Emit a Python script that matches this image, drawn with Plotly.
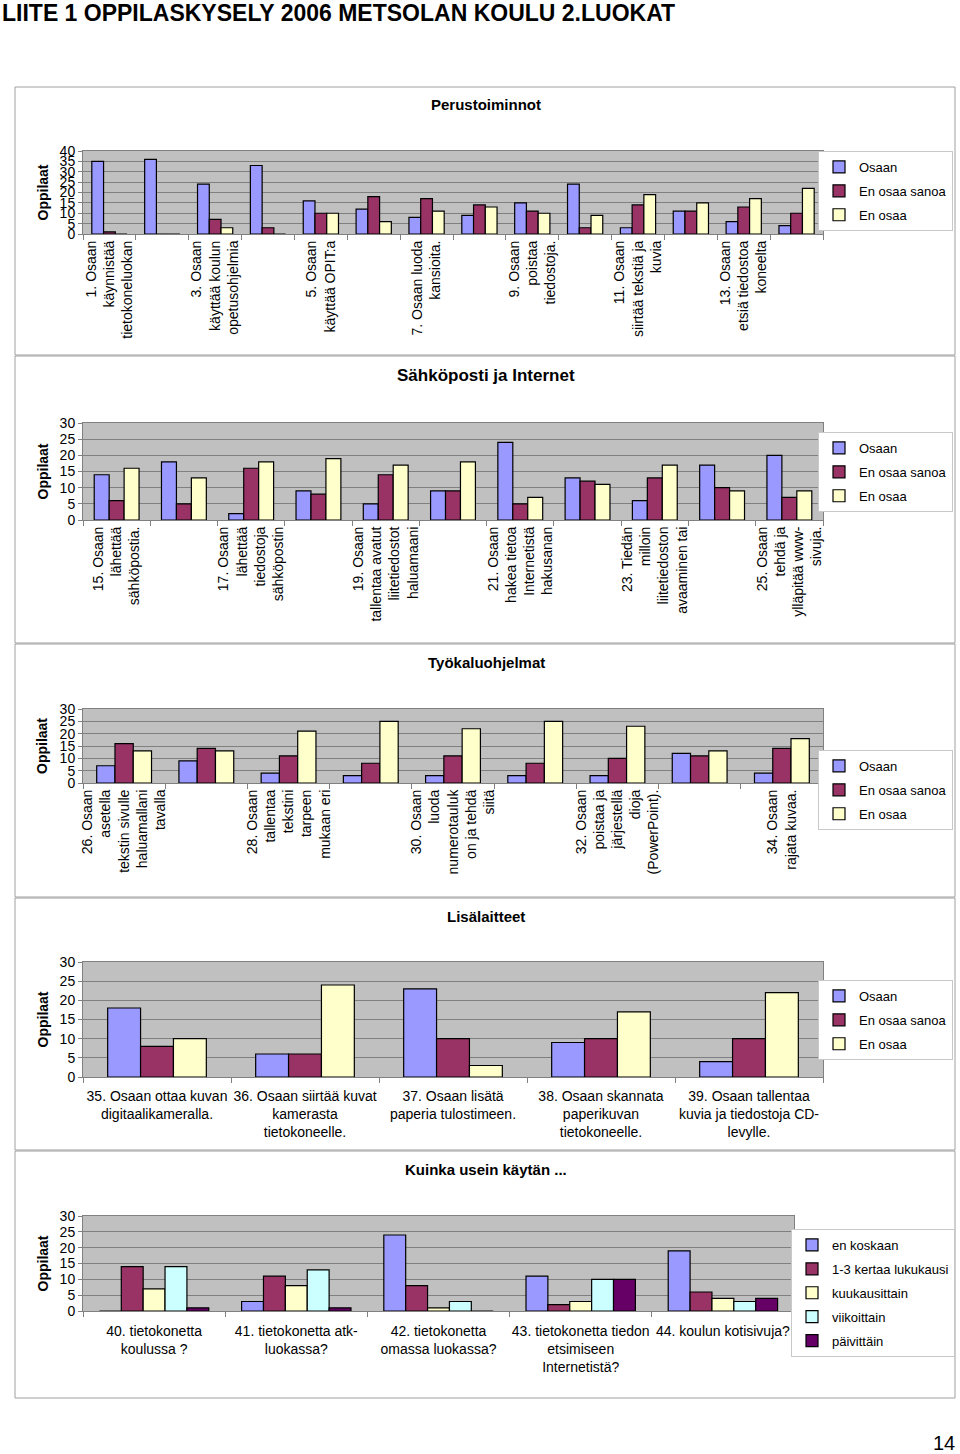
import plotly.graph_objects as go

W, H = 960, 1454
FONT = "Liberation Sans, Arial, sans-serif"

# ---------------- data ----------------
PAGE_TITLE = "LIITE 1 OPPILASKYSELY 2006 METSOLAN KOULU 2.LUOKAT"
PAGE_NUMBER = "14"
Y_TITLE = "Oppilaat"

SERIES3 = ["Osaan", "En osaa sanoa", "En osaa"]
SERIES5 = ["en koskaan", "1-3 kertaa lukukausi", "kuukausittain", "viikoittain", "päivittäin"]

# Chart 1: Perustoiminnot (questions 1-14)
c1_title = "Perustoiminnot"
c1_ids = [str(i) for i in range(1, 15)]
c1_labels = ["1. Osaan<br>käynnistää<br>tietokoneluokan", "",
             "3. Osaan<br>käyttää koulun<br>opetusohjelmia", "",
             "5. Osaan<br>käyttää OPIT:a", "",
             "7. Osaan luoda<br>kansioita.", "",
             "9. Osaan<br>poistaa<br>tiedostoja.", "",
             "11. Osaan<br>siirtää tekstiä ja<br>kuvia", "",
             "13. Osaan<br>etsiä tiedostoa<br>koneelta", ""]
c1_osaan = [35, 36, 24, 33, 16, 12, 8, 9, 15, 24, 3, 11, 6, 4]
c1_en_osaa_sanoa = [1, 0, 7, 3, 10, 18, 17, 14, 11, 3, 14, 11, 13, 10]
c1_en_osaa = [0, 0, 3, 0, 10, 6, 11, 13, 10, 9, 19, 15, 17, 22]
c1_yticks = [0, 5, 10, 15, 20, 25, 30, 35, 40]

# Chart 2: Sähköposti ja Internet (questions 15-25)
c2_title = "Sähköposti ja Internet"
c2_ids = [str(i) for i in range(15, 26)]
c2_labels = ["15. Osaan<br>lähettää<br>sähköpostia.", "",
             "17. Osaan<br>lähettää<br>tiedostoja<br>sähköpostin", "",
             "19. Osaan<br>tallentaa avatut<br>liitetiedostot<br>haluamaani", "",
             "21. Osaan<br>hakea tietoa<br>Internetistä<br>hakusanan", "",
             "23. Tiedän<br>milloin<br>liitetiedoston<br>avaaminen tai", "",
             "25. Osaan<br>tehdä ja<br>ylläpitää www-<br>sivuja."]
c2_osaan = [14, 18, 2, 9, 5, 9, 24, 13, 6, 17, 20]
c2_en_osaa_sanoa = [6, 5, 16, 8, 14, 9, 5, 12, 13, 10, 7]
c2_en_osaa = [16, 13, 18, 19, 17, 18, 7, 11, 17, 9, 9]
c2_yticks = [0, 5, 10, 15, 20, 25, 30]

# Chart 3: Työkaluohjelmat (questions 26-34)
c3_title = "Työkaluohjelmat"
c3_ids = [str(i) for i in range(26, 35)]
c3_labels = ["26. Osaan<br>asetella<br>tekstin sivulle<br>haluamallani<br>tavalla", "",
             "28. Osaan<br>tallentaa<br>tekstini<br>tarpeen<br>mukaan eri", "",
             "30. Osaan<br>luoda<br>numerotauluk<br>on ja tehdä<br>siitä", "",
             "32. Osaan<br>poistaa ja<br>järjestellä<br>dioja<br>(PowerPoint).", "",
             "34. Osaan<br>rajata kuvaa."]
c3_osaan = [7, 9, 4, 3, 3, 3, 3, 12, 4]
c3_en_osaa_sanoa = [16, 14, 11, 8, 11, 8, 10, 11, 14]
c3_en_osaa = [13, 13, 21, 25, 22, 25, 23, 13, 18]
c3_yticks = [0, 5, 10, 15, 20, 25, 30]

# Chart 4: Lisälaitteet (questions 35-39)
c4_title = "Lisälaitteet"
c4_ids = [str(i) for i in range(35, 40)]
c4_labels = ["35. Osaan ottaa kuvan<br>digitaalikameralla.",
             "36. Osaan siirtää kuvat<br>kamerasta<br>tietokoneelle.",
             "37. Osaan lisätä<br>paperia tulostimeen.",
             "38. Osaan skannata<br>paperikuvan<br>tietokoneelle.",
             "39. Osaan tallentaa<br>kuvia ja tiedostoja CD-<br>levylle."]
c4_osaan = [18, 6, 23, 9, 4]
c4_en_osaa_sanoa = [8, 6, 10, 10, 10]
c4_en_osaa = [10, 24, 3, 17, 22]
c4_yticks = [0, 5, 10, 15, 20, 25, 30]

# Chart 5: Kuinka usein käytän ... (questions 40-44)
c5_title = "Kuinka usein käytän ..."
c5_ids = [str(i) for i in range(40, 45)]
c5_labels = ["40. tietokonetta<br>koulussa ?",
             "41. tietokonetta atk-<br>luokassa?",
             "42. tietokonetta<br>omassa luokassa?",
             "43. tietokonetta tiedon<br>etsimiseen<br>Internetistä?",
             "44. koulun kotisivuja?"]
c5_en_koskaan = [0, 3, 24, 11, 19]
c5_kertaa_lukukausi = [14, 11, 8, 2, 6]
c5_kuukausittain = [7, 8, 1, 3, 4]
c5_viikoittain = [14, 13, 3, 10, 3]
c5_paivittain = [1, 1, 0, 10, 4]
c5_yticks = [0, 5, 10, 15, 20, 25, 30]

# ---------------- styles ----------------
COLORS3 = ["#9999FF", "#993366", "#FFFFCC"]
COLORS5 = ["#9999FF", "#993366", "#FFFFCC", "#CCFFFF", "#660066"]

charts = [
    dict(title=c1_title, tsize=15, ids=c1_ids, labels=c1_labels, names=SERIES3, colors=COLORS3,
         values=[c1_osaan, c1_en_osaa_sanoa, c1_en_osaa], yticks=c1_yticks, angle=-90, standoff=0,
         plot=(83, 151, 823, 234), legend=(953, 151), title_y=104, box=(15, 87, 955, 355)),
    dict(title=c2_title, tsize=17, ids=c2_ids, labels=c2_labels, names=SERIES3, colors=COLORS3,
         values=[c2_osaan, c2_en_osaa_sanoa, c2_en_osaa], yticks=c2_yticks, angle=-90, standoff=0,
         plot=(83, 423, 823, 520), legend=(953, 432), title_y=376, box=(15, 356, 955, 643)),
    dict(title=c3_title, tsize=15, ids=c3_ids, labels=c3_labels, names=SERIES3, colors=COLORS3,
         values=[c3_osaan, c3_en_osaa_sanoa, c3_en_osaa], yticks=c3_yticks, angle=-90, standoff=0,
         plot=(83, 709, 823, 783), legend=(953, 750), title_y=662, box=(15, 644, 955, 897)),
    dict(title=c4_title, tsize=15, ids=c4_ids, labels=c4_labels, names=SERIES3, colors=COLORS3,
         values=[c4_osaan, c4_en_osaa_sanoa, c4_en_osaa], yticks=c4_yticks, angle=0, standoff=6,
         plot=(83, 962, 823, 1077), legend=(953, 980), title_y=916, box=(15, 898, 955, 1150)),
    dict(title=c5_title, tsize=15, ids=c5_ids, labels=c5_labels, names=SERIES5, colors=COLORS5,
         values=[c5_en_koskaan, c5_kertaa_lukukausi, c5_kuukausittain, c5_viikoittain, c5_paivittain],
         yticks=c5_yticks, angle=0, standoff=7,
         plot=(83, 1216, 794, 1311), legend=(955, 1229), title_y=1169, box=(15, 1151, 955, 1398)),
]


def px(x):
    return x / W


def py(y):
    return 1 - y / H


fig = go.Figure()
layout = dict(
    width=W, height=H, margin=dict(l=0, r=0, t=0, b=0, autoexpand=False),
    paper_bgcolor="white", plot_bgcolor="#C0C0C0",
    barmode="group", bargap=1.5 / 4.5, bargroupgap=0,
    font=dict(family=FONT, size=14, color="black"),
    showlegend=True,
)
shapes = []
annotations = []

for k, ch in enumerate(charts, start=1):
    sfx = "" if k == 1 else str(k)
    xref, yref = "x" + sfx, "y" + sfx
    lname = "legend" + sfx
    n = len(ch["names"])
    w = 1 / (n + 1.5)
    for i, (name, col, vals) in enumerate(zip(ch["names"], ch["colors"], ch["values"])):
        tr = dict(x=ch["ids"], y=vals, name=name, xaxis=xref, yaxis=yref, legend=lname,
                  legendgroup=f"{k}-{i}",
                  marker=dict(color=col, line=dict(color="black", width=1.2)),
                  hoverinfo="skip")
        if n == 5:
            tr["width"] = w
            tr["offset"] = -n * w / 2 + i * w
        fig.add_trace(go.Bar(**tr))

    x0, y0, x1, y1 = ch["plot"]
    layout["xaxis" + sfx] = dict(
        domain=[px(x0), px(x1)], anchor=yref, type="category", automargin=False,
        categoryorder="array", categoryarray=ch["ids"],
        tickmode="array", tickvals=ch["ids"], ticktext=ch["labels"],
        tickangle=ch["angle"], tickson="boundaries", ticks="outside", ticklen=5,
        ticklabelstandoff=ch["standoff"],
        tickcolor="#808080", showline=True, linecolor="#808080", linewidth=1, mirror=True,
        showgrid=False, zeroline=False, tickfont=dict(size=14, family=FONT),
        fixedrange=True,
    )
    layout["yaxis" + sfx] = dict(
        domain=[py(y1), py(y0)], anchor=xref, range=[0, ch["yticks"][-1]], automargin=False,
        tickmode="array", tickvals=ch["yticks"], ticks="outside", ticklen=4,
        tickcolor="#808080", showline=True, linecolor="#808080", linewidth=1, mirror=True,
        showgrid=True, gridcolor="#808080", gridwidth=1, zeroline=False,
        tickfont=dict(size=14, family=FONT), fixedrange=True,
    )
    lx, ly = ch["legend"]
    layout[lname] = dict(
        x=px(lx), y=py(ly), xanchor="right", yanchor="top",
        bgcolor="white", bordercolor="#C8C8C8", borderwidth=1,
        font=dict(size=13, family=FONT), tracegroupgap=4,
        itemclick=False, itemdoubleclick=False,
    )
    bx0, by0, bx1, by1 = ch["box"]
    shapes.append(dict(type="rect", xref="paper", yref="paper",
                       x0=px(bx0), x1=px(bx1), y0=py(by1), y1=py(by0),
                       line=dict(color="#A0A0A0", width=1), fillcolor="rgba(0,0,0,0)",
                       layer="below"))
    annotations.append(dict(text="<b>" + ch["title"] + "</b>", xref="paper", yref="paper",
                            x=px(486), y=py(ch["title_y"]), xanchor="center", yanchor="middle",
                            showarrow=False, font=dict(size=ch["tsize"], family=FONT)))
    annotations.append(dict(text="<b>" + Y_TITLE + "</b>", xref="paper", yref="paper",
                            x=px(42), y=py((y0 + y1) / 2), xanchor="center", yanchor="middle",
                            textangle=-90, showarrow=False, font=dict(size=14, family=FONT)))

annotations.append(dict(text="<b>" + PAGE_TITLE + "</b>", xref="paper", yref="paper",
                        x=0, y=py(13), xanchor="left", yanchor="middle", showarrow=False,
                        font=dict(size=23, family=FONT)))
annotations.append(dict(text=PAGE_NUMBER, xref="paper", yref="paper",
                        x=px(957), y=py(1443), xanchor="right", yanchor="middle", showarrow=False,
                        font=dict(size=20, family=FONT)))

layout["shapes"] = shapes
layout["annotations"] = annotations
fig.update_layout(**layout)
fig.write_html("out.html", config={"displayModeBar": False},
               post_script="document.body.style.margin='0';document.body.style.overflow='hidden';")
